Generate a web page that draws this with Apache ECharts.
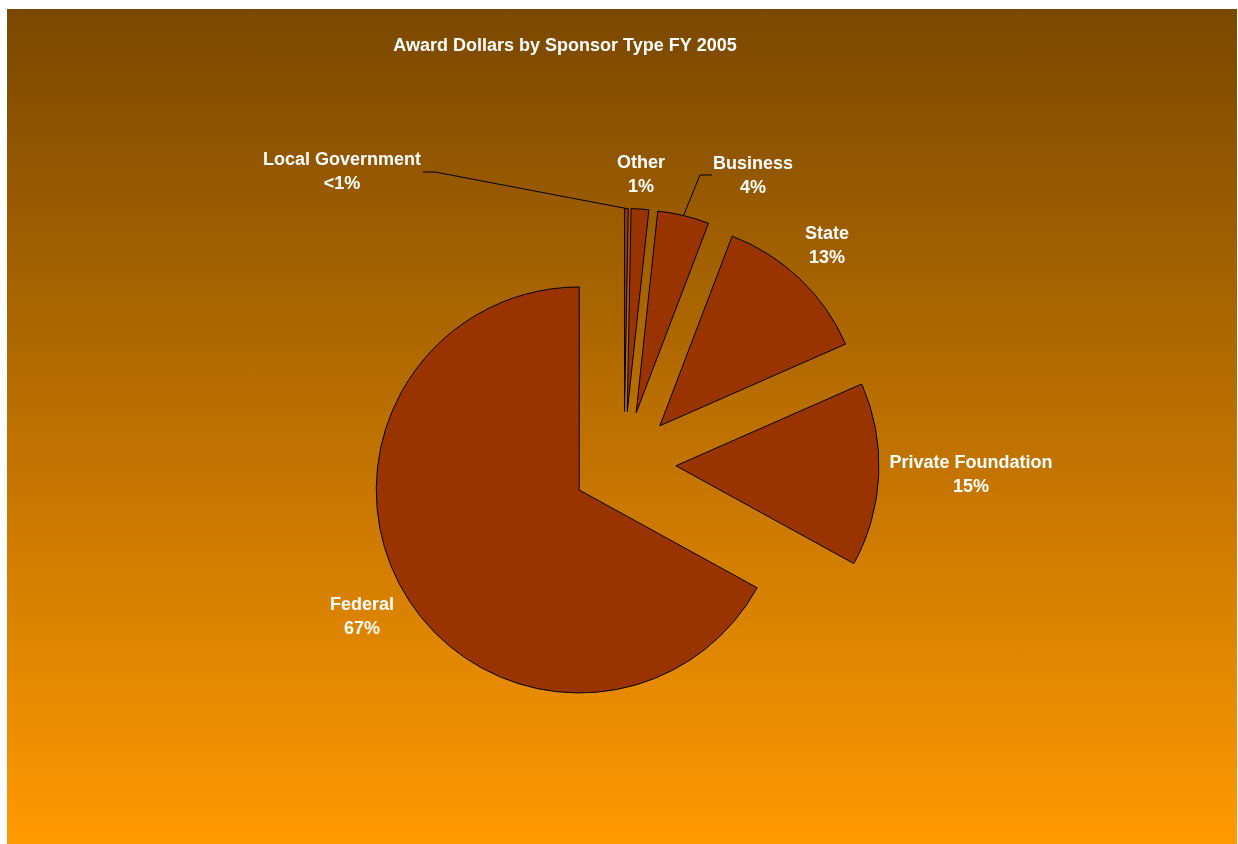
<!DOCTYPE html>
<html>
<head>
<meta charset="utf-8">
<script src="https://cdn.jsdelivr.net/npm/echarts@6/dist/echarts.min.js"></script>
<style>
  html, body { margin: 0; padding: 0; background: #ffffff; }
  #chart {
    position: absolute; left: 7px; top: 9px; width: 1230px; height: 835px;
    background: linear-gradient(to bottom, #7a4800 0%, #ff9900 100%);
  }
</style>
</head>
<body>
<div id="chart"></div>
<script>
// Data
const categories = ['Local Government', 'Other', 'Business', 'State', 'Private Foundation', 'Federal'];
const shares = [0.3, 1.4, 4.1, 12.6, 14.6, 67.0];
const labelTexts = ['<1%', '1%', '4%', '13%', '15%', '67%'];

// Label placement (chart-local pixel coordinates, centre of label block)
const labelCenters = [[335, 163.5], [634, 166], [746, 167.5], [820, 237], [964, 466], [355, 608]];
// Leader line elbow points for labels that have one
const leaderLines = { 0: [[428, 163], [416, 163]], 2: [[693, 166], [705, 166]] };

const CENTER = [617, 454.5];
const RADIUS = 203;
const OFFSET = 52;
const FONT = 'bold 18px "Liberation Sans", Arial, sans-serif';

const chart = echarts.init(document.getElementById('chart'), null, { renderer: 'canvas' });

const data = categories.map((name, i) => ({ name: name, value: shares[i], selected: true }));

// Leader line start points, derived from the slice geometry
const total = shares.reduce((a, b) => a + b, 0);
const graphics = [];
let acc = 0;
shares.forEach((v, i) => {
  const mid = (acc + v / 2) / total * 2 * Math.PI;
  acc += v;
  if (leaderLines[i]) {
    const r = RADIUS + OFFSET;
    const start = [CENTER[0] + r * Math.sin(mid), CENTER[1] - r * Math.cos(mid)];
    graphics.push({
      type: 'polyline',
      silent: true,
      shape: { points: [start].concat(leaderLines[i]) },
      style: { stroke: '#000000', lineWidth: 1, fill: null }
    });
  }
  graphics.push({
    type: 'text',
    silent: true,
    x: labelCenters[i][0],
    y: labelCenters[i][1],
    style: {
      text: categories[i] + '\n' + labelTexts[i],
      fill: '#ffffff',
      font: FONT,
      lineHeight: 24,
      align: 'center',
      verticalAlign: 'middle'
    }
  });
});

chart.setOption({
  backgroundColor: 'transparent',
  animation: false,
  title: {
    text: 'Award Dollars by Sponsor Type FY 2005',
    left: 553,
    top: 23,
    textAlign: 'center',
    textStyle: { color: '#ffffff', fontSize: 18, fontWeight: 'bold', fontFamily: 'Liberation Sans, Arial, sans-serif' }
  },
  graphic: graphics,
  series: [{
    type: 'pie',
    center: CENTER,
    radius: [0, RADIUS],
    startAngle: 90,
    clockwise: true,
    selectedMode: 'multiple',
    selectedOffset: OFFSET,
    emphasis: { disabled: true },
    itemStyle: { color: '#993300', borderColor: '#000000', borderWidth: 1 },
    label: { show: false },
    labelLine: { show: false },
    data: data
  }]
});
</script>
</body>
</html>
